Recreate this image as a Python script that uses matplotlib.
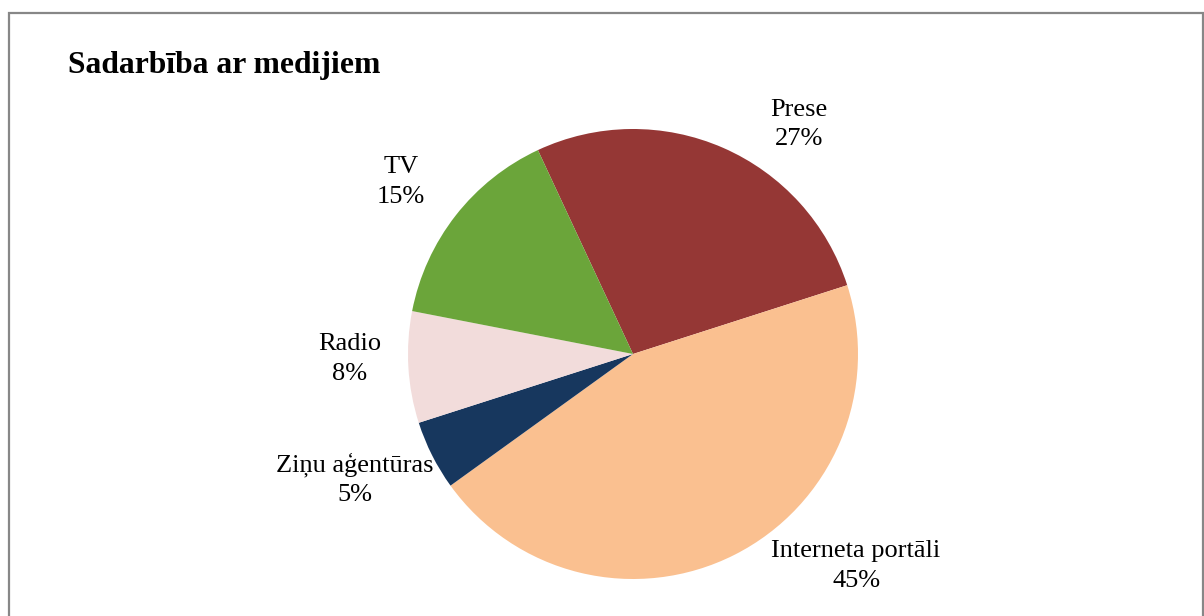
import numpy as np
import matplotlib.pyplot as plt
from matplotlib.patches import Rectangle

# ---- Data ----
categories = ["Prese", "Interneta portāli", "Ziņu aģentūras", "Radio", "TV"]
shares = [27, 45, 5, 8, 15]
colors = ["#953735", "#FAC090", "#17375E", "#F2DCDB", "#6BA53A"]

# label placement tweaks (angle shift in degrees, distance in radii) - layout only
label_shift = [-12, 20, -3, -3, 1]
label_dist = [1.27, 1.36, 1.35, 1.26, 1.29]

W, H = 1204, 616
fig = plt.figure(figsize=(W / 100, H / 100), dpi=100)
plt.rcParams["font.family"] = ["Liberation Serif", "DejaVu Serif"]

# outer frame
fig.patches.append(Rectangle((8.5 / W, -0.05), (1202.5 - 8.5) / W, 1.05 - 12.5 / H,
                             transform=fig.transFigure, fill=False,
                             edgecolor="#878787", linewidth=1.6))

cx, cy, r = 633, 354, 225
ax = fig.add_axes([(cx - r) / W, (H - cy - r) / H, 2 * r / W, 2 * r / H])
wedges, _ = ax.pie(shares, colors=colors, startangle=115, counterclock=False,
                   radius=1.0, wedgeprops=dict(linewidth=0))
ax.set_xlim(-1, 1)
ax.set_ylim(-1, 1)
ax.set_aspect("equal")
ax.axis("off")

for w, name, val, sh, d in zip(wedges, categories, shares, label_shift, label_dist):
    mid = np.deg2rad((w.theta1 + w.theta2) / 2 + sh)
    ax.text(d * np.cos(mid), d * np.sin(mid) - 0.012, f"{name}\n{val}%",
            ha="center", va="center", multialignment="center",
            fontsize=19, linespacing=1.45, clip_on=False)

fig.text(68 / W, 1 - 73 / H, "Sadarbība ar medijiem", fontsize=22.8,
         fontweight="bold", ha="left", va="baseline")

fig.savefig("out.png", dpi=100)
